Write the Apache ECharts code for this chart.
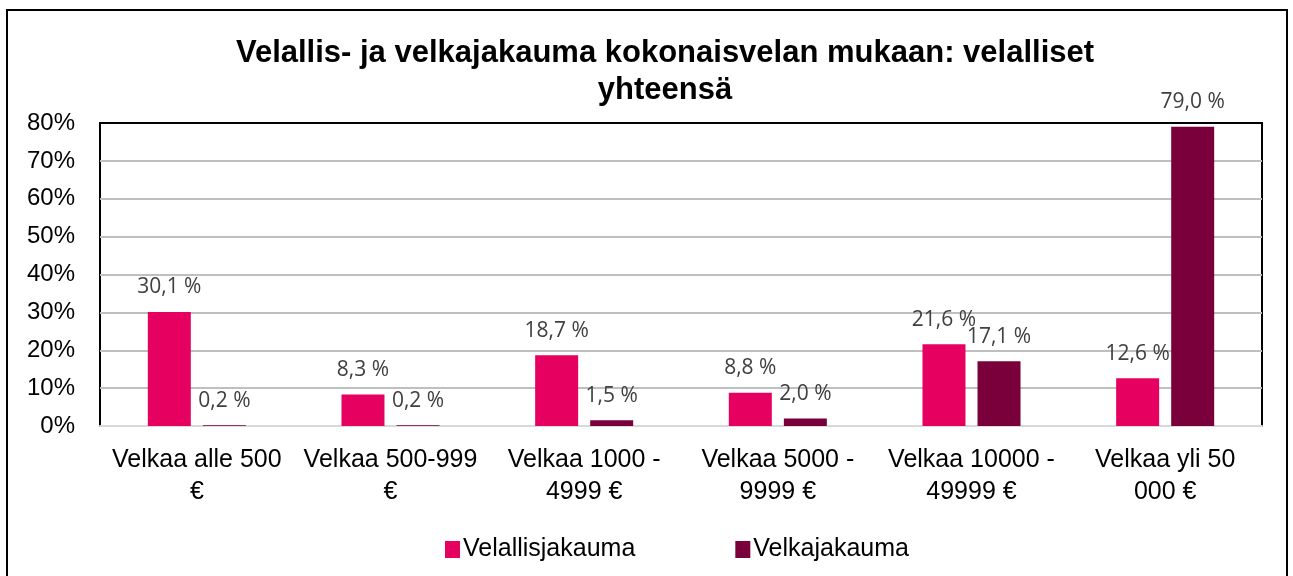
<!doctype html>
<html lang="fi">
<head>
<meta charset="UTF-8">
<title>Velallis- ja velkajakauma</title>
<script src="https://cdn.jsdelivr.net/npm/echarts@6/dist/echarts.min.js"></script>
<style>
  html, body { margin: 0; padding: 0; background: #fff; }
  #main { width: 1293px; height: 576px; }
</style>
</head>
<body>
<div id="main"></div>
<script>
// luokat ja arvot (%)
var categories = ['Velkaa alle 500\n€', 'Velkaa 500-999\n€', 'Velkaa 1000 -\n4999 €',
                  'Velkaa 5000 -\n9999 €', 'Velkaa 10000 -\n49999 €', 'Velkaa yli 50\n000 €'];
var velallisjakauma = [30.1, 8.3, 18.7, 8.8, 21.6, 12.6];
var velkajakauma = [0.2, 0.2, 1.5, 2.0, 17.1, 79.0];
var yTicks = [0, 10, 20, 30, 40, 50, 60, 70, 80];

var myChart = echarts.init(document.getElementById('main'));

function fmtLabel(p) {
    return p.value.toFixed(1).replace('.', ',') + ' %';
}

var labelStyle = {
    show: true,
    position: 'top',
    distance: 14,
    color: '#404040',
    fontFamily: 'Open Sans',
    fontSize: 21,
    formatter: fmtLabel
};

var option = {
    animation: false,
    title: {
        text: 'Velallis- ja velkajakauma kokonaisvelan mukaan: velalliset\nyhteensä',
        left: 660,
        textAlign: 'center',
        top: 30,
        textStyle: {
            fontFamily: 'Liberation Sans',
            fontWeight: 'bold',
            fontSize: 31,
            lineHeight: 37,
            color: '#000'
        }
    },
    legend: {
        data: ['Velallisjakauma', 'Velkajakauma'],
        left: 440,
        top: 532,
        itemWidth: 15,
        itemHeight: 17,
        itemGap: 100,
        icon: 'rect',
        textStyle: { fontFamily: 'Liberation Sans', fontSize: 25, color: '#000', padding: [0, 0, 0, -2] }
    },
    grid: {
        left: 100,
        top: 123,
        width: 1162,
        height: 303,
        show: true,
        borderColor: '#000',
        borderWidth: 2,
        backgroundColor: '#fff'
    },
    xAxis: {
        type: 'category',
        data: categories,
        axisLine: { lineStyle: { color: '#d9d9d9', width: 2 } },
        axisTick: { show: false },
        axisLabel: {
            interval: 0,
            margin: 18,
            fontFamily: 'Liberation Sans',
            fontSize: 25,
            lineHeight: 32,
            color: '#000'
        }
    },
    yAxis: {
        type: 'value',
        min: yTicks[0],
        max: yTicks[yTicks.length - 1],
        interval: 10,
        axisLine: { show: false },
        axisTick: { show: false },
        splitLine: { showMaxLine: false, lineStyle: { color: '#bfbfbf', width: 2 } },
        axisLabel: {
            margin: 25,
            fontFamily: 'Liberation Sans',
            fontSize: 24,
            color: '#000',
            formatter: '{value}%'
        }
    },
    graphic: [{
        type: 'rect',
        shape: { x: 7, y: 10, width: 1280, height: 600 },
        style: { fill: 'none', stroke: '#000', lineWidth: 2 },
        silent: true
    }],
    series: [
        {
            name: 'Velallisjakauma',
            type: 'bar',
            data: velallisjakauma,
            barWidth: 43,
            barGap: '28%',
            itemStyle: { color: '#e60060' },
            label: labelStyle
        },
        {
            name: 'Velkajakauma',
            type: 'bar',
            data: velkajakauma,
            barWidth: 43,
            barGap: '28%',
            itemStyle: { color: '#7a003c' },
            label: labelStyle
        }
    ]
};

myChart.setOption(option);
</script>
</body>
</html>
